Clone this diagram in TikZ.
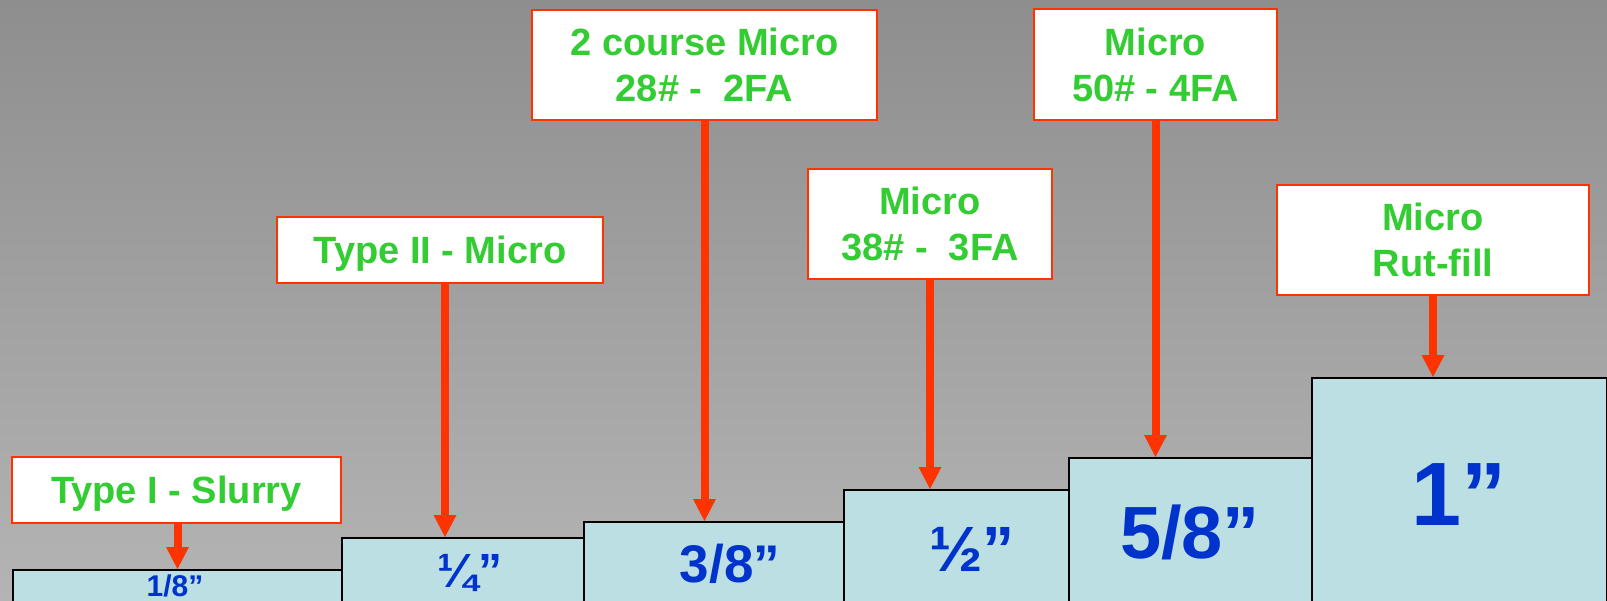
\documentclass[tikz,border=0pt]{standalone}
\usepackage{fontspec}
\setmainfont{Liberation Sans}
\usetikzlibrary{arrows.meta}
\definecolor{labred}{HTML}{FF3300}
\definecolor{labgreen}{HTML}{33CC33}
\definecolor{sizeblue}{HTML}{0033CC}
\definecolor{sizefill}{HTML}{BBDFE2}
\definecolor{bgtop}{HTML}{8E8E8E}
\definecolor{bgbot}{HTML}{B4B4B4}
\tikzset{
  labbox/.style={draw=labred, line width=2pt, fill=white, text=labgreen,
    font=\fontsize{38}{46}\selectfont\bfseries, align=center, inner sep=0pt, text depth=0pt},
  onebox/.style={labbox, text height=27pt},
  twobox/.style={labbox, text height=73pt},
  sizebox/.style={draw=black, line width=2pt, fill=sizefill, anchor=north west, inner sep=0pt},
  sizetext/.style={text=sizeblue, anchor=base, inner sep=0pt, font=\fontsize{#1}{#1}\selectfont\bfseries},
  pointer/.style={draw=labred, line width=8pt, -{Triangle[width=23pt,length=22pt,line width=0pt]}}
}
\begin{document}
\begin{tikzpicture}[x=1pt,y=-1pt]
                \path[use as bounding box] (0,0) rectangle (1607,600);
                \clip (0,0) rectangle (1607,600);
                \shade[top color=bgtop, bottom color=bgbot] (0,0) rectangle (1607,600);
                % thickness steps
                \node[sizebox, minimum width=329pt, minimum height=100pt] (s1) at (12,569) {};
                \node[sizebox, minimum width=242pt, minimum height=100pt] (s2) at (341,537) {};
                \node[sizebox, minimum width=260pt, minimum height=120pt] (s3) at (583,521) {};
                \node[sizebox, minimum width=225pt, minimum height=150pt] (s4) at (843,489) {};
                \node[sizebox, minimum width=243pt, minimum height=180pt] (s5) at (1068,457) {};
                \node[sizebox, minimum width=295pt, minimum height=260pt] (s6) at (1311,377) {};
                \node[sizetext=30] (t1) at (175,596) {1/8”};
                \node[sizetext=48] (t2) at (470,587) {¼”};
                \node[sizetext=53] (t3) at (730,582) {3/8”};
                \node[sizetext=64] (t4) at (972,571) {½”};
                \node[sizetext=74] (t5) at (1190,558) {5/8”};
                \node[sizetext=90] (t6) at (1459,525) {1”};
                % treatment labels
                \node[onebox, minimum width=329pt, minimum height=66pt] (l1) at (176.5,490) {Type I - Slurry};
                \node[onebox, minimum width=326pt, minimum height=66pt] (l2) at (440,250) {Type II - Micro};
                \node[twobox, minimum width=345pt, minimum height=110pt] (l3) at (704.5,64.5) {2 course Micro\\28\# - \ 2FA};
                \node[twobox, minimum width=244pt, minimum height=110pt] (l4) at (930,224) {Micro\\38\# - \ 3FA};
                \node[twobox, minimum width=243pt, minimum height=111pt] (l5) at (1155.5,64.5) {Micro\\50\# - 4FA};
                \node[twobox, minimum width=312pt, minimum height=110pt] (l6) at (1433,240) {Micro\\Rut-fill};
                \draw[pointer] ([xshift=1pt]l1.south) -- ([xshift=1pt]l1.south |- s1.north);
                \draw[pointer] ([xshift=5pt]l2.south) -- ([xshift=5pt]l2.south |- s2.north);
                \draw[pointer] (l3.south) -- (l3.south |- s3.north);
                \draw[pointer] (l4.south) -- (l4.south |- s4.north);
                \draw[pointer] (l5.south) -- (l5.south |- s5.north);
                \draw[pointer] (l6.south) -- (l6.south |- s6.north);
\end{tikzpicture}
\end{document}
